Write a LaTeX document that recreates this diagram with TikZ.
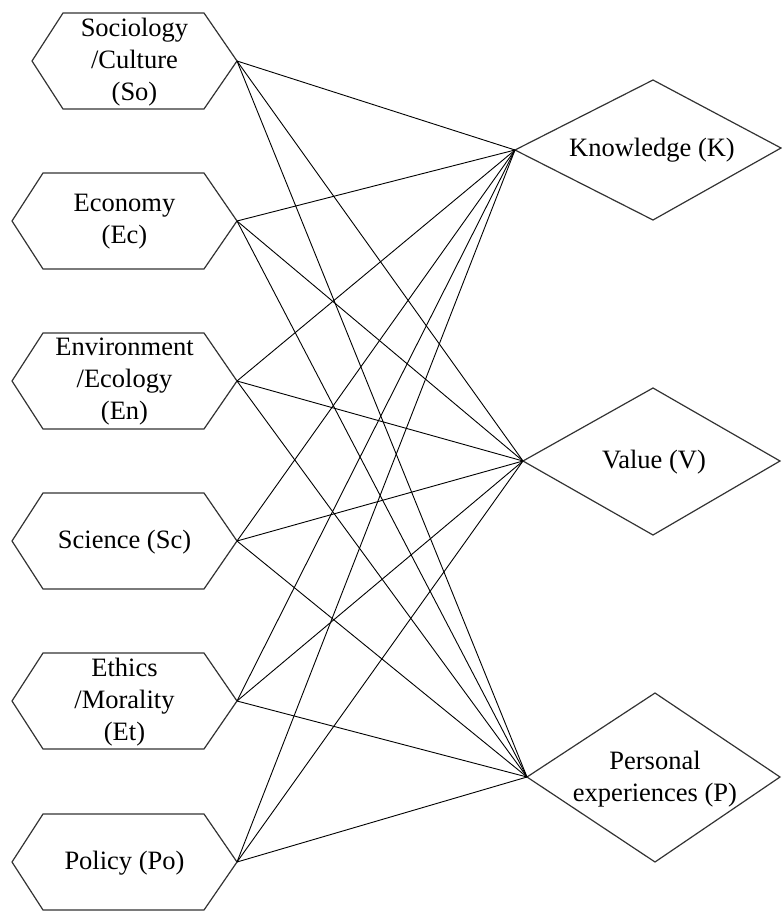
\documentclass[tikz,border=0pt]{standalone}
\usepackage{fontspec}
\setmainfont{Liberation Serif}
\begin{document}
\begin{tikzpicture}[x=1pt,y=-1pt]
\tikzset{
  shapeline/.style={draw=black!80, line width=1.2pt, line join=miter},
  link/.style={draw=black, line width=0.9pt},
  lbl/.style={align=center, font=\fontsize{26.5}{32}\selectfont, inner sep=0pt},
}
\useasboundingbox (0,0) rectangle (782,911);
% left hexagons: #1 name, #2 centre y, #3 left tip x, #4 text
\newcommand\hexbox[4]{%
  \draw[shapeline] (#3,#2) -- (#3+31,#2-48) -- (204,#2-48) -- (237,#2)
    -- (204,#2+48) -- (#3+31,#2+48) -- cycle;
  \coordinate (#1-r) at (237,#2);
  \node[lbl] (#1) at ({(#3+237)/2},#2+1) {#4};
}
\hexbox{So}{61}{32}{Sociology\\/Culture\\(So)}
\hexbox{Ec}{221}{12}{Economy\\(Ec)}
\hexbox{En}{381}{12}{Environment\\/Ecology\\(En)}
\hexbox{Sc}{541}{12}{Science (Sc)}
\hexbox{Et}{701}{12}{Ethics\\/Morality\\(Et)}
\hexbox{Po}{862}{12}{Policy (Po)}
% right diamonds
\draw[shapeline] (515,150) -- (653,80) -- (781,148) -- (653,220) -- cycle;
\coordinate (K-l) at (515,150);
\node[lbl] (K) at (652,150) {Knowledge (K)};
\draw[shapeline] (523,461) -- (653,388) -- (780,461) -- (653,535) -- cycle;
\coordinate (V-l) at (523,461);
\node[lbl] (V) at (654,462) {Value (V)};
\draw[shapeline] (527,777) -- (655,693) -- (780,777) -- (655,862) -- cycle;
\coordinate (P-l) at (527,777);
\node[lbl] (P) at (655,779) {Personal\\experiences (P)};
% connectors
\foreach \a in {So,Ec,En,Sc,Et,Po}
  \foreach \b in {K,V,P}
    \draw[link] (\a-r) -- (\b-l);
\end{tikzpicture}
\end{document}
